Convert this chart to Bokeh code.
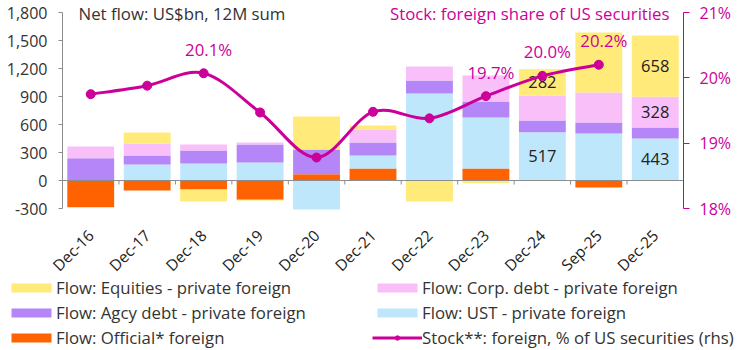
import numpy as np
from bokeh.plotting import figure
from bokeh.models import (Range1d, LinearAxis, FixedTicker, NumeralTickFormatter,
                          PrintfTickFormatter, Legend, LegendItem, Label)
from bokeh.embed import file_html
from bokeh.resources import INLINE
from bokeh.core.properties import value

# ---------------- data ----------------
categories = ["Dec-16", "Dec-17", "Dec-18", "Dec-19", "Dec-20", "Dec-21",
              "Dec-22", "Dec-23", "Dec-24", "Sep-25", "Dec-25"]
official = [-286, -107, -96, -207, 68, 128, 0, 129, 0, -75, 8]
ust      = [0, 171, 182, 193, -311, 140, 932, 546, 517, 504, 443]
agcy     = [239, 97, 139, 193, 264, 138, 139, 171, 125, 117, 117]
corp     = [126, 125, 64, 21, 0, 141, 150, 279, 268, 322, 328]
equities = [-5, 121, -129, -7, 354, 42, -225, -29, 282, 643, 658]
stock_cats = ["Dec-16", "Dec-17", "Dec-18", "Dec-19", "Dec-20", "Dec-21",
              "Dec-22", "Dec-23", "Dec-24", "Sep-25"]
stock = [19.75, 19.88, 20.07, 19.47, 18.78, 19.48, 19.38, 19.72, 20.03, 20.20]
stock_labelled = ["Dec-18", "Dec-23", "Dec-24", "Sep-25"]
value_labelled = [("Dec-24", "ust"), ("Dec-24", "equities"),
                  ("Dec-25", "ust"), ("Dec-25", "corp"), ("Dec-25", "equities")]
left_ticks = [-300, 0, 300, 600, 900, 1200, 1500, 1800]
right_ticks = [18, 19, 20, 21]

series = [
    ("official", official, "#FF6200", "Flow: Official* foreign"),
    ("ust", ust, "#BFE7FB", "Flow: UST - private foreign"),
    ("agcy", agcy, "#B586F8", "Flow: Agcy debt - private foreign"),
    ("corp", corp, "#F8BFF9", "Flow: Corp. debt - private foreign"),
    ("equities", equities, "#FFEA7A", "Flow: Equities - private foreign"),
]
stock_label = "Stock**: foreign, % of US securities (rhs)"
left_title = "Net flow: US$bn, 12M sum"
right_title = "Stock: foreign share of US securities"
MAG = "#CC0099"
TXT = "#333333"
GRAY = "#8C8C8C"
FONT = "Open Sans"
FS = "16px"
FS_T = "16.8px"

# ---------------- layout (pixels of the 739x350 canvas) ----------------
W, H = 739, 350
XL, XR = 62, 683      # plotting area left / right
YT, YB = 12, 208      # pixel rows of 1800 / -300
n = len(categories)
ux = n / (XR - XL)
uy = (1800 - (-300)) / (YB - YT)
ur = (21 - 18) / (YB - YT)
x_start, x_end = -0.5 - XL * ux, n - 0.5 + (W - XR) * ux
y_start, y_end = -300 - (H - YB) * uy, 1800 + YT * uy
r_start, r_end = 18 - (H - YB) * ur, 21 + YT * ur

p = figure(width=W, height=H, output_backend="svg", toolbar_location=None,
           x_range=Range1d(x_start, x_end), y_range=Range1d(y_start, y_end),
           min_border_left=0, min_border_right=0, min_border_top=0,
           min_border_bottom=0)
p.extra_y_ranges = {"right": Range1d(r_start, r_end)}
p.outline_line_color = None
p.xgrid.visible = False
p.ygrid.visible = False

xc = np.arange(n)
pos = np.zeros(n)
neg = np.zeros(n)
extents = {}
rend = {}
for name, vals, color, lab in series:
    v = np.array(vals, dtype=float)
    bottom = np.where(v >= 0, pos, neg)
    top = bottom + v
    pos = np.where(v >= 0, top, pos)
    neg = np.where(v < 0, top, neg)
    rend[name] = p.vbar(x=xc, bottom=bottom, top=top, width=0.83, fill_color=color,
                        line_color=None)
    extents[name] = (bottom, top, v)

# zero line with category ticks
p.segment(x0=[-0.5], y0=[0], x1=[n - 0.5], y1=[0], line_color=GRAY, line_width=1)
bnd = xc[:-1] + 0.5
p.segment(x0=bnd, y0=np.zeros(len(bnd)), x1=bnd, y1=np.full(len(bnd), -4 * uy),
          line_color=GRAY, line_width=1)

# value labels
lx, ly, lt = [], [], []
for cat, name in value_labelled:
    i = categories.index(cat)
    b, t, v = extents[name]
    lx.append(i)
    ly.append((b[i] + t[i]) / 2)
    lt.append(str(int(round(v[i]))))
p.text(x=lx, y=ly, text=lt, text_align="center", text_baseline="middle",
       text_font=value(FONT), text_font_size="16.5px", text_color="#222222")

# stock line (smoothed through the points)
sx = np.array([categories.index(c) for c in stock_cats], dtype=float)
sy = np.array(stock, dtype=float)
P = np.column_stack([sx, sy])
Pm = np.vstack([P[0], P, P[-1]])
c0 = P[:-1] + (Pm[2:-1] - Pm[:-3]) / 6.0
c1 = P[1:] - (Pm[3:] - Pm[1:-2]) / 6.0
bez = p.bezier(x0=P[:-1, 0], y0=P[:-1, 1], x1=P[1:, 0], y1=P[1:, 1],
               cx0=c0[:, 0], cy0=c0[:, 1], cx1=c1[:, 0], cy1=c1[:, 1],
               line_color=MAG, line_width=3, y_range_name="right")
sc = p.scatter(x=sx, y=sy, size=9, fill_color=MAG, line_color=MAG,
               y_range_name="right")

tx = [categories.index(c) for c in stock_labelled]
ty = [stock[stock_cats.index(c)] for c in stock_labelled]
tt = ["%.1f%%" % v for v in ty]
p.text(x=tx, y=ty, text=tt, text_align="center", text_baseline="middle",
       x_offset=5, y_offset=-24, text_font=value(FONT), text_font_size="16.8px",
       text_color=MAG, y_range_name="right")

# axes (fixed inside the full-canvas frame)
p.yaxis.fixed_location = -0.5
p.yaxis.ticker = FixedTicker(ticks=left_ticks)
p.yaxis.bounds = (-300, 1800)
p.yaxis.formatter = NumeralTickFormatter(format="0,0")
p.yaxis.axis_line_color = GRAY
p.yaxis.major_tick_line_color = GRAY
p.yaxis.major_tick_out = 4
p.yaxis.major_tick_in = 0
p.yaxis.minor_tick_line_color = None
p.yaxis.major_label_standoff = 11
p.yaxis.major_label_text_font = FONT
p.yaxis.major_label_text_font_size = FS
p.yaxis.major_label_text_color = TXT

ra = LinearAxis(y_range_name="right", ticker=FixedTicker(ticks=right_ticks),
                formatter=PrintfTickFormatter(format="%d%%"), bounds=(18, 21),
                fixed_location=n - 0.5)
ra.axis_line_color = MAG
ra.major_tick_line_color = MAG
ra.major_tick_out = 6
ra.major_tick_in = 0
ra.minor_tick_line_color = None
ra.major_label_standoff = 10
ra.major_label_text_font = FONT
ra.major_label_text_font_size = FS
ra.major_label_text_color = MAG
p.add_layout(ra, "right")

p.xaxis.fixed_location = -300
p.xaxis.ticker = FixedTicker(ticks=list(range(n)))
p.xaxis.major_label_overrides = {i: c for i, c in enumerate(categories)}
p.xaxis.axis_line_color = None
p.xaxis.major_tick_line_color = None
p.xaxis.minor_tick_line_color = None
p.xaxis.major_label_orientation = np.pi / 4
p.xaxis.major_label_standoff = 18
p.xaxis.major_label_text_font = FONT
p.xaxis.major_label_text_font_size = "15.5px"
p.xaxis.major_label_text_color = "#222222"

# titles
title_y = y_end - 13 * uy
p.add_layout(Label(x=x_start + 78 * ux, y=title_y, text=left_title,
                   text_baseline="middle", text_font=FONT, text_font_size=FS_T,
                   text_color=TXT))
p.add_layout(Label(x=x_start + 669 * ux, y=title_y, text=right_title,
                   text_baseline="middle", text_align="right", text_font=FONT,
                   text_font_size=FS_T, text_color=MAG))

# legend below the axis labels
items = [
    LegendItem(label=series[4][3], renderers=[rend["equities"]]),
    LegendItem(label=series[3][3], renderers=[rend["corp"]]),
    LegendItem(label=series[2][3], renderers=[rend["agcy"]]),
    LegendItem(label=series[1][3], renderers=[rend["ust"]]),
    LegendItem(label=series[0][3], renderers=[rend["official"]]),
    LegendItem(label=stock_label, renderers=[bez, sc]),
]
leg = Legend(items=items, location=(6, 1.5), orientation="horizontal", ncols=2,
             glyph_width=50, glyph_height=11, label_standoff=0, label_width=314,
             label_height=21, spacing=2, padding=0, margin=0,
             border_line_color=None, background_fill_alpha=0,
             label_text_font=FONT, label_text_font_size=FS_T, label_text_color=TXT)
p.add_layout(leg, "center")

open("out.html", "w").write(file_html(p, INLINE))
